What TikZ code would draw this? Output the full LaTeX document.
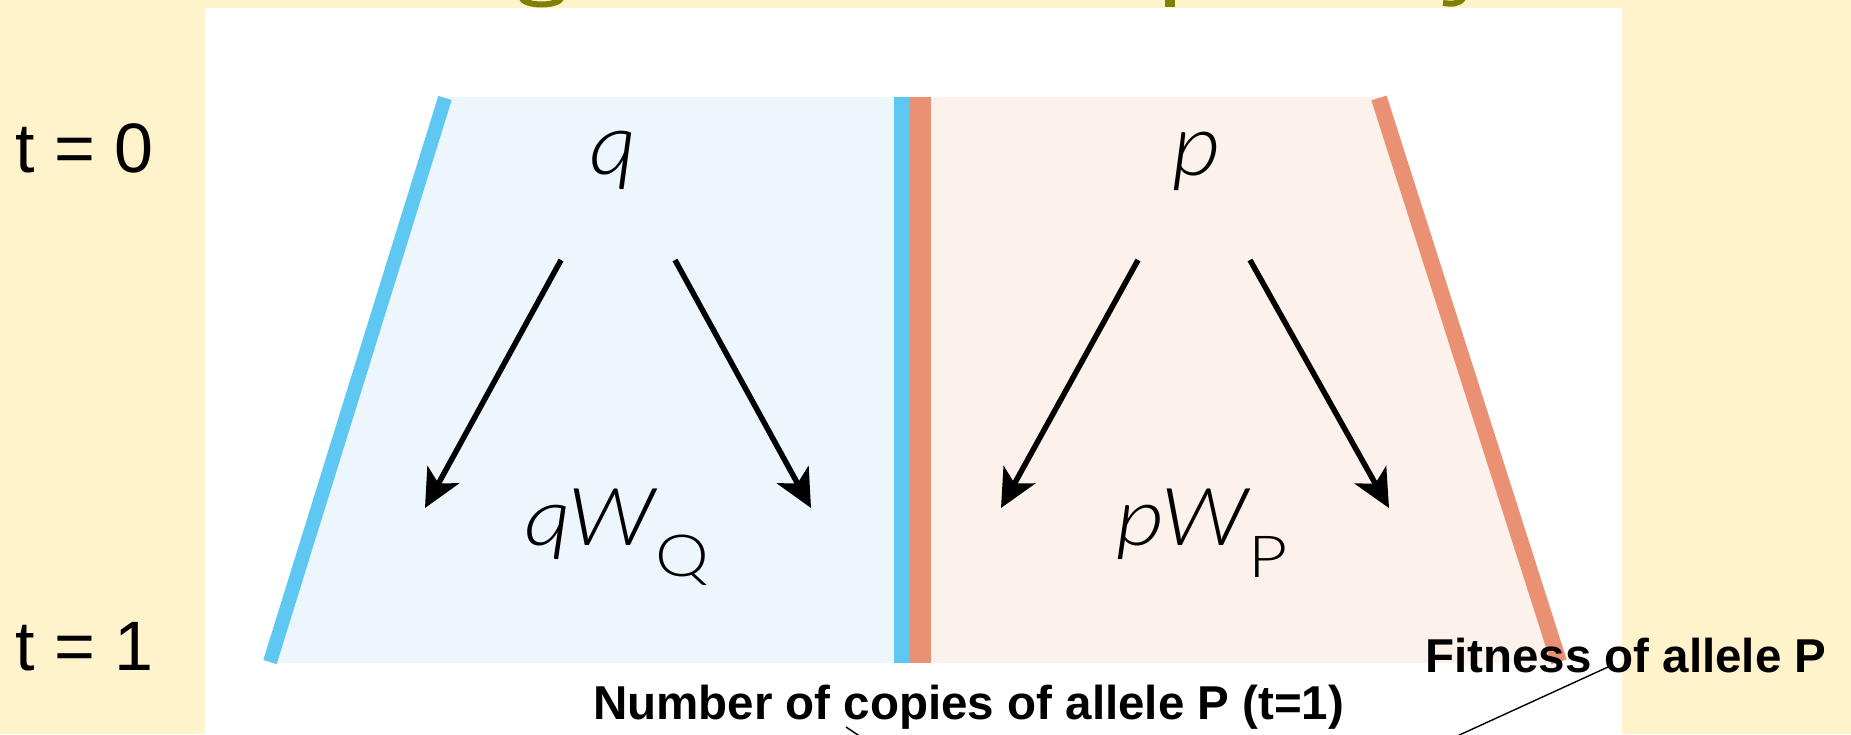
\documentclass[tikz,border=0pt]{standalone}
\usepackage{fontspec}
\setmainfont{Liberation Sans}
\newfontfamily\thinfont{Lato Light}[ItalicFont={Lato Light Italic}]
\usetikzlibrary{arrows.meta}
\definecolor{cream}{HTML}{FFF3CB}
\definecolor{olivet}{HTML}{808000}
\definecolor{qblue}{HTML}{5FC8F2}
\definecolor{qfill}{HTML}{EEF6FD}
\definecolor{porange}{HTML}{E99172}
\definecolor{pfill}{HTML}{FCF1EB}
\tikzset{
  flow/.style={line width=5.5pt, -{Stealth[length=38pt,width=36pt,inset=10pt]}},
  tlabel/.style={anchor=base west, inner sep=0pt, font=\fontsize{70}{70}\selectfont},
  callout/.style={anchor=base west, inner sep=0pt, font=\bfseries\fontsize{47.5}{48}\selectfont},
  sym/.style={anchor=base, inner sep=0pt},
  pointer/.style={line width=1.4pt, black}
}
\newcommand{\symtxt}[1]{\scalebox{1.1}[1]{\thinfont\itshape\fontsize{86}{86}\selectfont #1}}
\newcommand{\prodtxt}[3]{\scalebox{1.17}[1]{\thinfont\fontsize{80}{80}\selectfont\itshape #1\upshape\fontsize{58}{58}\selectfont\raisebox{#3}{#2}}}
\begin{document}
\begin{tikzpicture}[x=1pt,y=-1pt]
\useasboundingbox (0,0) rectangle (1851,734);
% backgrounds
\fill[cream] (0,0) rectangle (1851,734);
\fill[white] (205,8) rectangle (1622,734);
% title fragments (cut off at top)
\draw[olivet, line width=6pt] (521,-3) .. controls (524,7) and (559,7) .. (562,-3);
\fill[olivet] (1165,0) rectangle (1175,7);
\draw[olivet, line width=6pt] (1464,-3) .. controls (1459,5) and (1451,4) .. (1443,3);
% fills
\fill[qfill] (445,97) -- (894,97) -- (894,663) -- (270,663) -- cycle;
\fill[pfill] (931,97) -- (1379,97) -- (1560,663) -- (931,663) -- cycle;
% side lines
\draw[qblue, line width=14pt] (445,98) -- (270,662);
\draw[porange, line width=16pt] (1379,98) -- (1559,662);
% middle bars
\fill[qblue] (894,97) rectangle (909,663);
\fill[porange] (909,97) rectangle (931,663);
% symbols
\node[sym] (q) at (613,174) {\symtxt{q}};
\node[sym] (p) at (1197,175) {\symtxt{p}};
\node[anchor=base west, inner sep=0pt] (qw) at (524,545) {\prodtxt{qW}{Q}{-31pt}};
\node[anchor=base west, inner sep=0pt] (pw) at (1116,545) {\prodtxt{pW}{P}{-32pt}};
% arrows
\coordinate (qa1) at (561,260); \coordinate (qb1) at (425,508);
\coordinate (qa2) at (675,260); \coordinate (qb2) at (811,508);
\coordinate (pa1) at (1138,260); \coordinate (pb1) at (1001,508);
\coordinate (pa2) at (1250,260); \coordinate (pb2) at (1389,508);
\draw[flow] (qa1) -- (qb1);
\draw[flow] (qa2) -- (qb2);
\draw[flow] (pa1) -- (pb1);
\draw[flow] (pa2) -- (pb2);
% time labels
\node[tlabel] (t0) at (15,172) {t = 0};
\node[tlabel] (t1) at (15,670) {t = 1};
% callouts
\node[callout] (fit) at (1425,672) {Fitness of allele P};
\node[callout] (num) at (593,719) {Number of copies of allele P (t=1)};
\coordinate (fittip) at (1608,667);
\coordinate (fitend) at (1455,737);
\coordinate (numtip) at (846,727);
\coordinate (numend) at (861,737);
\draw[pointer] (fittip) -- (fitend);
\draw[pointer] (numtip) -- (numend);
\end{tikzpicture}
\end{document}
